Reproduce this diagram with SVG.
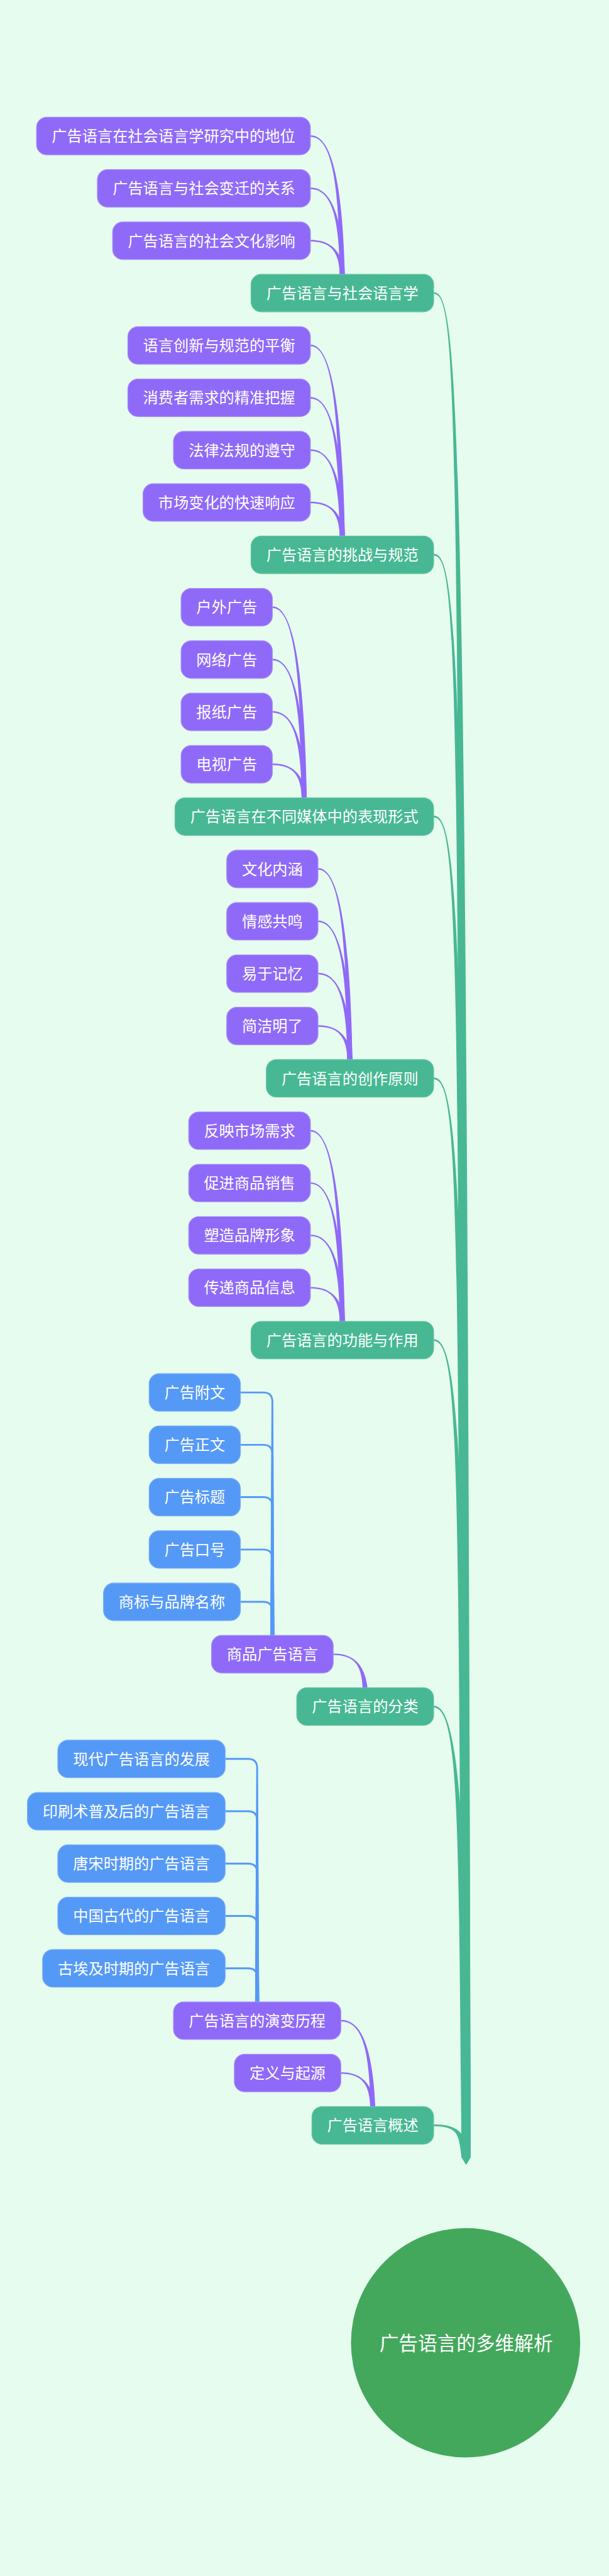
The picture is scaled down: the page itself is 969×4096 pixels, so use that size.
<svg xmlns="http://www.w3.org/2000/svg" width="969" height="4096" viewBox="0 0 969 4096">
<style>
.bg{fill:#E6FCEE}
.p{fill:#8F6AF8;stroke:#A88DFA;stroke-width:1.5}
.g{fill:#47B893;stroke:#66C5A6;stroke-width:1.5}
.b{fill:#5599F7;stroke:#78AEF9;stroke-width:1.5}
.cg{fill:#47B893}
.cp{fill:#8F6AF8}
.cb{fill:#5599F7}
text{font-family:"Noto Sans CJK SC","Noto Sans",sans-serif;fill:#FFFFFF;text-anchor:middle}
.t{font-size:30px}
.rt{font-size:38px}
</style>
<rect class="bg" x="0" y="0" width="969" height="4096"/>
<g transform="scale(0.807)">
<g id="connectors">
<path class="cg" d="M855,575.75 C905,574.95 920,800.45 928,4250 L919,4265 L910,4250 C904,800.45 905,579.95 855,579.15Z"/>
<path class="cg" d="M855,1091.5 C905,1090.7 920,1316.2 928,4250 L919,4265 L910,4250 C904,1316.2 905,1095.7 855,1094.9Z"/>
<path class="cg" d="M855,1607.25 C905,1606.45 920,1831.95 928,4250 L919,4265 L910,4250 C904,1831.95 905,1611.45 855,1610.65Z"/>
<path class="cg" d="M855,2123 C905,2122.2 920,2347.7 928,4250 L919,4265 L910,4250 C904,2347.7 905,2127.2 855,2126.4Z"/>
<path class="cg" d="M855,2638.75 C905,2637.95 920,2863.45 928,4250 L919,4265 L910,4250 C904,2863.45 905,2642.95 855,2642.15Z"/>
<path class="cg" d="M855,3360.8 C905,3360 920,3585.5 928,4250 L919,4265 L910,4250 C904,3585.5 905,3365 855,3364.2Z"/>
<path class="cg" d="M855,4186 C905,4185.2 920,4206.4 928,4250 L919,4265 L910,4250 C904,4206.4 905,4190.2 855,4189.4Z"/>

<path class="cp" d="M612,266.5 C652,266.5 675,349.7 680,543.5 L670,543.5 C669,349.7 652,269.5 612,269.5Z"/>
<path class="cp" d="M612,369.7 C652,369.7 675,421.9 680,543.5 L670,543.5 C669,421.9 652,372.7 612,372.7Z"/>
<path class="cp" d="M612,472.8 C652,472.8 675,494.1 680,543.5 L670,543.5 C669,494.1 652,475.8 612,475.8Z"/>

<path class="cp" d="M612,679.1 C652,679.1 675,793.3 680,1059.2 L670,1059.2 C669,793.3 652,682.1 612,682.1Z"/>
<path class="cp" d="M612,782.3 C652,782.3 675,865.5 680,1059.2 L670,1059.2 C669,865.5 652,785.3 612,785.3Z"/>
<path class="cp" d="M612,885.4 C652,885.4 675,937.7 680,1059.2 L670,1059.2 C669,937.7 652,888.4 612,888.4Z"/>
<path class="cp" d="M612,988.6 C652,988.6 675,1009.9 680,1059.2 L670,1059.2 C669,1009.9 652,991.6 612,991.6Z"/>

<path class="cp" d="M537,1194.9 C577,1194.9 600,1309 605,1575 L595,1575 C594,1309 577,1197.9 537,1197.9Z"/>
<path class="cp" d="M537,1298 C577,1298 600,1381.2 605,1575 L595,1575 C594,1381.2 577,1301 537,1301Z"/>
<path class="cp" d="M537,1401.2 C577,1401.2 600,1453.4 605,1575 L595,1575 C594,1453.4 577,1404.2 537,1404.2Z"/>
<path class="cp" d="M537,1504.3 C577,1504.3 600,1525.6 605,1575 L595,1575 C594,1525.6 577,1507.3 537,1507.3Z"/>

<path class="cp" d="M627,1710.6 C667,1710.6 690,1824.8 695,2090.7 L685,2090.7 C684,1824.8 667,1713.6 627,1713.6Z"/>
<path class="cp" d="M627,1813.8 C667,1813.8 690,1897 695,2090.7 L685,2090.7 C684,1897 667,1816.8 627,1816.8Z"/>
<path class="cp" d="M627,1916.9 C667,1916.9 690,1969.2 695,2090.7 L685,2090.7 C684,1969.2 667,1919.9 627,1919.9Z"/>
<path class="cp" d="M627,2020.1 C667,2020.1 690,2041.4 695,2090.7 L685,2090.7 C684,2041.4 667,2023.1 627,2023.1Z"/>

<path class="cp" d="M612,2226.4 C652,2226.4 675,2340.5 680,2606.5 L670,2606.5 C669,2340.5 652,2229.4 612,2229.4Z"/>
<path class="cp" d="M612,2329.5 C652,2329.5 675,2412.7 680,2606.5 L670,2606.5 C669,2412.7 652,2332.5 612,2332.5Z"/>
<path class="cp" d="M612,2432.7 C652,2432.7 675,2484.9 680,2606.5 L670,2606.5 C669,2484.9 652,2435.7 612,2435.7Z"/>
<path class="cp" d="M612,2535.8 C652,2535.8 675,2557.1 680,2606.5 L670,2606.5 C669,2557.1 652,2538.8 612,2538.8Z"/>

<path class="cp" d="M657,3257.9 C697,3257.9 720,3279.2 725,3328.5 L715,3328.5 C714,3279.2 697,3260.9 657,3260.9Z"/>
<path class="cp" d="M672,3979.9 C712,3979.9 735,4032.2 740,4153.7 L730,4153.7 C729,4032.2 712,3982.9 672,3982.9Z"/>
<path class="cp" d="M672,4083.1 C712,4083.1 735,4104.4 740,4153.7 L730,4153.7 C729,4104.4 712,4086.1 672,4086.1Z"/>

<path class="cb" d="M474,2741.8 L519,2741.8 Q538.8,2741.8 538.8,2761.6 L541,3225.4 L533,3225.4 L535.2,2761.6 Q535.2,2745.4 519,2745.4 L474,2745.4Z"/>
<path class="cb" d="M474,2845 L519,2845 Q538.8,2845 538.8,2864.8 L541,3225.4 L533,3225.4 L535.2,2864.8 Q535.2,2848.6 519,2848.6 L474,2848.6Z"/>
<path class="cb" d="M474,2948.1 L519,2948.1 Q538.8,2948.1 538.8,2967.9 L541,3225.4 L533,3225.4 L535.2,2967.9 Q535.2,2951.7 519,2951.7 L474,2951.7Z"/>
<path class="cb" d="M474,3051.3 L519,3051.3 Q538.8,3051.3 538.8,3071.1 L541,3225.4 L533,3225.4 L535.2,3071.1 Q535.2,3054.9 519,3054.9 L474,3054.9Z"/>
<path class="cb" d="M474,3154.4 L519,3154.4 Q538.8,3154.4 538.8,3174.2 L541,3225.4 L533,3225.4 L535.2,3174.2 Q535.2,3158 519,3158 L474,3158Z"/>

<path class="cb" d="M444,3463.9 L489,3463.9 Q508.8,3463.9 508.8,3483.7 L511,3947.4 L503,3947.4 L505.2,3483.7 Q505.2,3467.5 489,3467.5 L444,3467.5Z"/>
<path class="cb" d="M444,3567 L489,3567 Q508.8,3567 508.8,3586.8 L511,3947.4 L503,3947.4 L505.2,3586.8 Q505.2,3570.6 489,3570.6 L444,3570.6Z"/>
<path class="cb" d="M444,3670.2 L489,3670.2 Q508.8,3670.2 508.8,3690 L511,3947.4 L503,3947.4 L505.2,3690 Q505.2,3673.8 489,3673.8 L444,3673.8Z"/>
<path class="cb" d="M444,3773.3 L489,3773.3 Q508.8,3773.3 508.8,3793.1 L511,3947.4 L503,3947.4 L505.2,3793.1 Q505.2,3776.9 489,3776.9 L444,3776.9Z"/>
<path class="cb" d="M444,3876.5 L489,3876.5 Q508.8,3876.5 508.8,3896.3 L511,3947.4 L503,3947.4 L505.2,3896.3 Q505.2,3880.1 489,3880.1 L444,3880.1Z"/>
</g>

<g id="n0"><rect class="p" x="72" y="231" width="540" height="74" rx="20"/><text class="t" x="342" y="279">广告语言在社会语言学研究中的地位</text></g>
<g id="n1"><rect class="p" x="192" y="334.15" width="420" height="74" rx="20"/><text class="t" x="402" y="382.15">广告语言与社会变迁的关系</text></g>
<g id="n2"><rect class="p" x="222" y="437.3" width="390" height="74" rx="20"/><text class="t" x="417" y="485.3">广告语言的社会文化影响</text></g>
<g id="n3"><rect class="g" x="495" y="540.45" width="360" height="74" rx="20"/><text class="t" x="675" y="588.45">广告语言与社会语言学</text></g>
<g id="n4"><rect class="p" x="252" y="643.6" width="360" height="74" rx="20"/><text class="t" x="432" y="691.6">语言创新与规范的平衡</text></g>
<g id="n5"><rect class="p" x="252" y="746.75" width="360" height="74" rx="20"/><text class="t" x="432" y="794.75">消费者需求的精准把握</text></g>
<g id="n6"><rect class="p" x="342" y="849.9" width="270" height="74" rx="20"/><text class="t" x="477" y="897.9">法律法规的遵守</text></g>
<g id="n7"><rect class="p" x="282" y="953.05" width="330" height="74" rx="20"/><text class="t" x="447" y="1001.05">市场变化的快速响应</text></g>
<g id="n8"><rect class="g" x="495" y="1056.2" width="360" height="74" rx="20"/><text class="t" x="675" y="1104.2">广告语言的挑战与规范</text></g>
<g id="n9"><rect class="p" x="357" y="1159.35" width="180" height="74" rx="20"/><text class="t" x="447" y="1207.35">户外广告</text></g>
<g id="n10"><rect class="p" x="357" y="1262.5" width="180" height="74" rx="20"/><text class="t" x="447" y="1310.5">网络广告</text></g>
<g id="n11"><rect class="p" x="357" y="1365.65" width="180" height="74" rx="20"/><text class="t" x="447" y="1413.65">报纸广告</text></g>
<g id="n12"><rect class="p" x="357" y="1468.8" width="180" height="74" rx="20"/><text class="t" x="447" y="1516.8">电视广告</text></g>
<g id="n13"><rect class="g" x="345" y="1571.95" width="510" height="74" rx="20"/><text class="t" x="600" y="1619.95">广告语言在不同媒体中的表现形式</text></g>
<g id="n14"><rect class="p" x="447" y="1675.1" width="180" height="74" rx="20"/><text class="t" x="537" y="1723.1">文化内涵</text></g>
<g id="n15"><rect class="p" x="447" y="1778.25" width="180" height="74" rx="20"/><text class="t" x="537" y="1826.25">情感共鸣</text></g>
<g id="n16"><rect class="p" x="447" y="1881.4" width="180" height="74" rx="20"/><text class="t" x="537" y="1929.4">易于记忆</text></g>
<g id="n17"><rect class="p" x="447" y="1984.55" width="180" height="74" rx="20"/><text class="t" x="537" y="2032.55">简洁明了</text></g>
<g id="n18"><rect class="g" x="525" y="2087.7" width="330" height="74" rx="20"/><text class="t" x="690" y="2135.7">广告语言的创作原则</text></g>
<g id="n19"><rect class="p" x="372" y="2190.85" width="240" height="74" rx="20"/><text class="t" x="492" y="2238.85">反映市场需求</text></g>
<g id="n20"><rect class="p" x="372" y="2294" width="240" height="74" rx="20"/><text class="t" x="492" y="2342">促进商品销售</text></g>
<g id="n21"><rect class="p" x="372" y="2397.15" width="240" height="74" rx="20"/><text class="t" x="492" y="2445.15">塑造品牌形象</text></g>
<g id="n22"><rect class="p" x="372" y="2500.3" width="240" height="74" rx="20"/><text class="t" x="492" y="2548.3">传递商品信息</text></g>
<g id="n23"><rect class="g" x="495" y="2603.45" width="360" height="74" rx="20"/><text class="t" x="675" y="2651.45">广告语言的功能与作用</text></g>
<g id="n24"><rect class="b" x="294" y="2706.6" width="180" height="74" rx="20"/><text class="t" x="384" y="2754.6">广告附文</text></g>
<g id="n25"><rect class="b" x="294" y="2809.75" width="180" height="74" rx="20"/><text class="t" x="384" y="2857.75">广告正文</text></g>
<g id="n26"><rect class="b" x="294" y="2912.9" width="180" height="74" rx="20"/><text class="t" x="384" y="2960.9">广告标题</text></g>
<g id="n27"><rect class="b" x="294" y="3016.05" width="180" height="74" rx="20"/><text class="t" x="384" y="3064.05">广告口号</text></g>
<g id="n28"><rect class="b" x="204" y="3119.2" width="270" height="74" rx="20"/><text class="t" x="339" y="3167.2">商标与品牌名称</text></g>
<g id="n29"><rect class="p" x="417" y="3222.35" width="240" height="74" rx="20"/><text class="t" x="537" y="3270.35">商品广告语言</text></g>
<g id="n30"><rect class="g" x="585" y="3325.5" width="270" height="74" rx="20"/><text class="t" x="720" y="3373.5">广告语言的分类</text></g>
<g id="n31"><rect class="b" x="114" y="3428.65" width="330" height="74" rx="20"/><text class="t" x="279" y="3476.65">现代广告语言的发展</text></g>
<g id="n32"><rect class="b" x="54" y="3531.8" width="390" height="74" rx="20"/><text class="t" x="249" y="3579.8">印刷术普及后的广告语言</text></g>
<g id="n33"><rect class="b" x="114" y="3634.95" width="330" height="74" rx="20"/><text class="t" x="279" y="3682.95">唐宋时期的广告语言</text></g>
<g id="n34"><rect class="b" x="114" y="3738.1" width="330" height="74" rx="20"/><text class="t" x="279" y="3786.1">中国古代的广告语言</text></g>
<g id="n35"><rect class="b" x="84" y="3841.25" width="360" height="74" rx="20"/><text class="t" x="264" y="3889.25">古埃及时期的广告语言</text></g>
<g id="n36"><rect class="p" x="342" y="3944.4" width="330" height="74" rx="20"/><text class="t" x="507" y="3992.4">广告语言的演变历程</text></g>
<g id="n37"><rect class="p" x="462" y="4047.55" width="210" height="74" rx="20"/><text class="t" x="567" y="4095.55">定义与起源</text></g>
<g id="n38"><rect class="g" x="615" y="4150.7" width="240" height="74" rx="20"/><text class="t" x="735" y="4198.7">广告语言概述</text></g>
<g id="root"><circle cx="918" cy="4616" r="226" fill="#44A85C"/><text class="rt" x="919" y="4631">广告语言的多维解析</text></g>
</g>
</svg>
